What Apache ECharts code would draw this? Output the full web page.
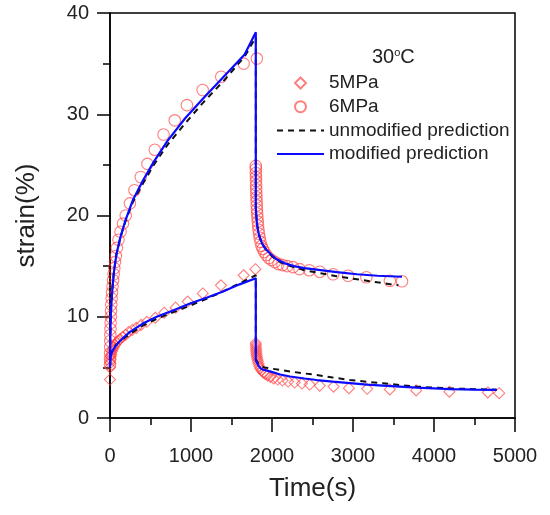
<!DOCTYPE html>
<html><head><meta charset="utf-8">
<script src="https://cdn.jsdelivr.net/npm/echarts@6/dist/echarts.min.js"></script>
<style>html,body{margin:0;padding:0;background:#fff}#c{width:550px;height:515px}</style>
</head><body><div id="c"></div>
<script>
// ---- data (time s, strain %) ----
const xTicks = [0, 1000, 2000, 3000, 4000, 5000];
const yTicks = [0, 10, 20, 30, 40];
const seriesNames = ['5MPa', '6MPa', 'unmodified prediction', 'modified prediction'];

const exp5MPa = [
  [0,3.8],[0,5.0],[3,5.4],[6,5.8],[10,6.1],[16,6.3],[24,6.6],[34,6.8],[46,7.0],[60,7.2],[78,7.4],[100,7.6],[125,7.8],[155,8.0],[190,8.2],[230,8.5],[275,8.7],[325,8.9],[385,9.2],[455,9.5],[560,9.9],[670,10.4],[810,10.9],[960,11.5],[1145,12.3],[1370,13.1],[1650,14.1],[1795,14.7],
  [1800,7.4],[1801,7.2],[1802,7.0],[1803,6.8],[1805,6.6],[1807,6.4],[1810,6.2],[1814,6.0],[1819,5.8],[1825,5.6],[1833,5.35],[1843,5.1],[1856,4.9],[1872,4.7],[1892,4.5],[1916,4.35],[1945,4.2],[1980,4.05],[2020,3.9],[2070,3.8],[2130,3.7],[2200,3.6],[2280,3.5],[2370,3.4],[2465,3.3],[2590,3.2],[2760,3.1],[2950,2.95],[3175,2.88],[3455,2.82],[3780,2.72],[4190,2.6],[4665,2.52],[4805,2.45]
];
const exp6MPa = [
  [0,5.3],[0,5.8],[1,6.4],[2,7.0],[3,7.6],[4,8.2],[6,8.8],[8,9.4],[10,10.0],[13,10.6],[16,11.2],[20,11.8],[25,12.4],[31,13.0],[38,13.6],[45,14.2],[53,14.8],[62,15.4],[72,16.0],[85,16.8],[105,17.6],[130,18.4],[160,19.2],[194,20.0],[246,21.2],[302,22.5],[380,23.8],[462,25.1],[553,26.5],[661,28.0],[799,29.4],[950,30.9],[1144,32.4],[1373,33.7],[1650,35.0],[1813,35.5],
  [1800,24.9],[1800,24.6],[1801,24.2],[1802,23.8],[1803,23.4],[1804,23.0],[1805,22.6],[1806,22.2],[1808,21.8],[1810,21.4],[1812,21.0],[1814,20.6],[1817,20.2],[1820,19.8],[1824,19.4],[1828,19.0],[1833,18.6],[1840,18.2],[1848,17.8],[1858,17.4],[1870,17.0],[1885,16.7],[1905,16.4],[1930,16.1],[1960,15.8],[1995,15.6],[2035,15.4],[2080,15.2],[2130,15.1],[2190,15.0],[2260,14.9],[2340,14.7],[2460,14.6],[2590,14.45],[2755,14.2],[2940,14.05],[3165,13.9],[3455,13.55],[3605,13.5]
];
const unmod5MPa = [
  [0,5.0],[4,5.8],[12,6.3],[30,6.7],[60,7.1],[100,7.4],[160,7.8],[247,8.3],[400,9.1],[577,9.8],[800,10.5],[988,11.1],[1200,11.8],[1395,12.5],[1600,13.3],[1800,14.1],
  [1800,5.8],[1811,5.7],[1830,5.4],[1860,5.15],[1900,5.0],[1975,4.9],[2100,4.75],[2222,4.6],[2400,4.4],[2552,4.25],[2750,4.0],[2963,3.75],[3170,3.58],[3370,3.43],[3580,3.25],[3786,3.1],[4000,3.0],[4198,2.93],[4500,2.85],[4774,2.8]
];
const mod5MPa = [
  [0,5.0],[4,5.7],[12,6.2],[30,6.6],[60,7.0],[100,7.4],[160,7.9],[247,8.5],[400,9.3],[577,10.0],[800,10.7],[988,11.3],[1200,11.9],[1395,12.5],[1600,13.2],[1800,13.8],
  [1800,5.7],[1811,5.6],[1830,5.2],[1860,4.9],[1900,4.75],[1975,4.6],[2100,4.3],[2222,4.1],[2400,3.9],[2552,3.75],[2750,3.6],[2963,3.45],[3170,3.3],[3370,3.2],[3580,3.1],[3786,3.0],[4000,2.93],[4198,2.86],[4500,2.8],[4774,2.77]
];
const unmod6MPa = [
  [0,5.1],[3,7.6],[8,9.6],[15,11.1],[30,12.9],[50,14.6],[80,16.2],[130,17.9],[194,19.5],[281,21.3],[410,23.2],[540,25.0],[712,27.0],[928,29.1],[1144,31.1],[1403,33.3],[1662,35.7],[1800,37.6],
  [1800,20.8],[1806,20.0],[1815,19.2],[1830,18.4],[1850,17.8],[1880,17.2],[1920,16.7],[1970,16.2],[2050,15.6],[2150,15.2],[2270,14.9],[2400,14.6],[2600,14.3],[2800,14.0],[3050,13.7],[3300,13.4],[3560,13.1]
];
const mod6MPa = [
  [0,5.1],[3,7.5],[8,9.5],[15,11.0],[30,12.8],[50,14.5],[80,16.2],[130,17.9],[194,19.6],[281,21.5],[410,23.5],[540,25.3],[712,27.4],[928,29.6],[1144,31.5],[1403,33.7],[1662,35.9],[1800,38.1],
  [1800,20.8],[1806,20.0],[1815,19.2],[1830,18.4],[1850,17.8],[1880,17.2],[1920,16.7],[1970,16.3],[2050,15.7],[2150,15.3],[2270,15.0],[2400,14.8],[2600,14.6],[2800,14.4],[3050,14.2],[3300,14.05],[3605,13.95]
];

// ---- chart ----
const FONT = 'Liberation Sans, Arial, sans-serif';
const RED = 'rgba(255,55,55,0.8)';
const chart = echarts.init(document.getElementById('c'), null, {renderer: 'canvas'});
const lineOf = (name, data, color, type, width, z) => ({
  name, type: 'line', data, symbol: 'none', showSymbol: false, z,
  lineStyle: {color, width, type}, itemStyle: {color}, animation: false
});
const axisText = {fontSize: 20, fontFamily: FONT, color: '#222'};
chart.setOption({
  animation: false,
  backgroundColor: '#fff',
  grid: {left: 110, right: 35, top: 13, bottom: 97, show: true, borderColor: '#000', borderWidth: 1.5, backgroundColor: 'transparent'},
  title: {
    text: '{n|30}{s|o}{n|C}', left: 372, top: 47, padding: 0,
    textStyle: {fontWeight: 'normal', rich: {
      n: {fontSize: 20, fontFamily: FONT, color: '#222', fontWeight: 'normal'},
      s: {fontSize: 11, fontFamily: FONT, color: '#222', fontWeight: 'normal', padding: [0,0,9,0]}}}
  },
  legend: {
    data: [
      {name: seriesNames[0], icon: 'path://M0,-1L1,0L0,1L-1,0Z'},
      {name: seriesNames[1], icon: 'circle'},
      {name: seriesNames[2], itemStyle: {opacity: 0}},
      {name: seriesNames[3], itemStyle: {opacity: 0}}
    ],
    orient: 'vertical', left: 276, top: 73, padding: 0,
    itemWidth: 47, itemHeight: 11, itemGap: 3.7, symbolKeepAspect: true,
    textStyle: {fontSize: 19, fontFamily: FONT, color: '#222', lineHeight: 20}
  },
  xAxis: {
    type: 'value', min: xTicks[0], max: xTicks[xTicks.length - 1], interval: 1000,
    name: 'Time(s)', nameLocation: 'middle', nameGap: 58,
    nameTextStyle: {fontSize: 26, fontFamily: FONT, color: '#222'},
    axisLine: {show: true, lineStyle: {color: '#000', width: 1.5}},
    axisTick: {show: true, inside: false, length: 14, lineStyle: {color: '#000', width: 1.5}},
    minorTick: {show: true, splitNumber: 2, length: 7, lineStyle: {color: '#000', width: 1.5}},
    splitLine: {show: false},
    axisLabel: Object.assign({margin: 28, showMaxLabel: true, formatter: v => String(v)}, axisText)
  },
  yAxis: {
    type: 'value', min: yTicks[0], max: yTicks[yTicks.length - 1], interval: 10,
    name: 'strain(%)', nameLocation: 'middle', nameGap: 70, nameRotate: 90,
    nameTextStyle: {fontSize: 26, fontFamily: FONT, color: '#222'},
    axisLine: {show: true, lineStyle: {color: '#000', width: 1.5}},
    axisTick: {show: true, inside: false, length: 13, lineStyle: {color: '#000', width: 1.5}},
    minorTick: {show: true, splitNumber: 2, length: 7, lineStyle: {color: '#000', width: 1.5}},
    splitLine: {show: false},
    axisLabel: Object.assign({margin: 21, formatter: v => String(v)}, axisText)
  },
  series: [
    {name: seriesNames[0], type: 'scatter', data: exp5MPa, symbol: 'diamond', symbolSize: [11, 11], z: 2,
     itemStyle: {color: 'rgba(255,255,255,0)', borderColor: RED, borderWidth: 1.1}},
    {name: seriesNames[1], type: 'scatter', data: exp6MPa, symbol: 'circle', symbolSize: 11.5, z: 2,
     itemStyle: {color: 'rgba(255,255,255,0)', borderColor: RED, borderWidth: 1.1}},
    lineOf(seriesNames[2], unmod5MPa, '#111', [6, 5], 2, 3),
    lineOf(seriesNames[2], unmod6MPa, '#111', [6, 5], 2, 3),
    lineOf(seriesNames[3], mod5MPa, '#0a0aff', 'solid', 2.2, 4),
    lineOf(seriesNames[3], mod6MPa, '#0a0aff', 'solid', 2.2, 4)
  ]
});
</script></body></html>
